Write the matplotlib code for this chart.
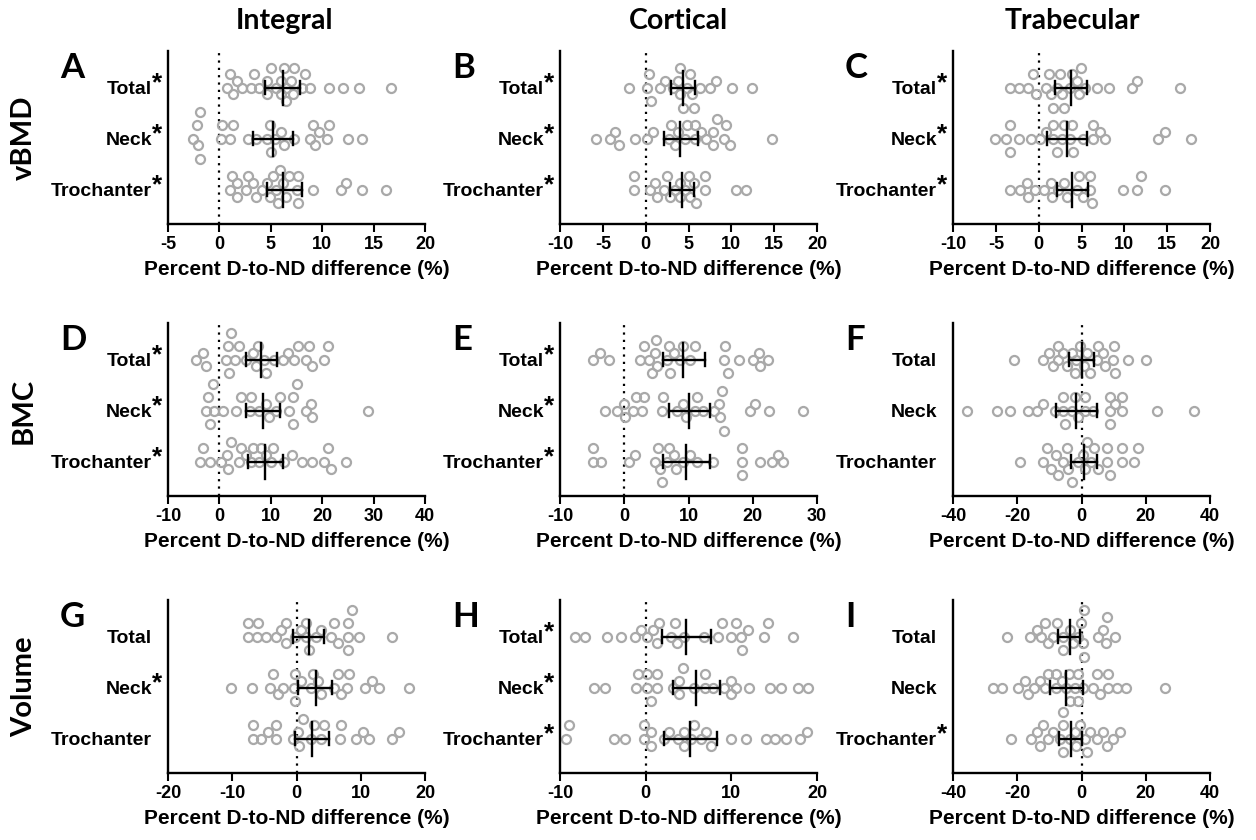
import numpy as np
import matplotlib
matplotlib.use('Agg')
import matplotlib.pyplot as plt

# ---------------------------------------------------------------------------
# Data: percent D-to-ND differences
# ---------------------------------------------------------------------------
sites = ['Trochanter', 'Neck', 'Total']

# vBMD
a_total = [0.7, 1.0, 1.3, 1.7, 2.2, 3.1, 3.4, 3.9, 4.6, 4.6, 5.0, 5.5, 6.0, 6.0, 6.3,
           6.5, 6.5, 7.0, 7.2, 7.3, 8.0, 8.3, 8.8, 10.7, 12.0, 13.6, 16.7]
a_neck = [-2.6, -2.2, -1.9, -1.9, -2.1, 0.2, 0.3, 1.3, 1.0, 2.8, 3.6, 4.6, 4.9, 5.0, 5.4,
          6.0, 6.3, 7.3, 9.1, 8.8, 9.3, 9.7, 10.7, 10.5, 12.5, 13.9]
a_troch = [1.0, 1.2, 1.7, 1.7, 2.6, 2.8, 3.3, 3.6, 4.1, 4.6, 4.9, 5.2, 5.5, 5.7, 5.9,
           6.2, 6.5, 6.8, 7.5, 7.6, 7.6, 9.1, 11.8, 12.3, 13.9, 16.2]
b_total = [-1.9, 0.1, 0.4, 0.6, 1.7, 2.3, 3.2, 3.8, 4.0, 4.0, 4.3, 4.8, 5.2, 5.4, 5.6,
           6.4, 7.5, 8.2, 10.1, 12.4]
b_neck = [-5.8, -4.2, -3.6, -3.1, -1.3, 0.1, 0.9, 2.7, 3.0, 3.4, 3.8, 4.6, 4.8, 5.8, 5.8,
          6.5, 7.1, 7.9, 7.9, 8.3, 9.1, 9.4, 9.9, 14.7]
b_troch = [-1.4, -1.4, 0.5, 1.1, 1.3, 2.1, 2.5, 2.8, 3.4, 4.0, 4.0, 4.6, 5.0, 5.2, 5.6,
           5.9, 6.9, 6.9, 10.6, 11.7]
c_total = [-3.3, -2.3, -1.2, -0.7, -0.3, 0.8, 1.2, 1.4, 1.7, 2.1, 2.5, 2.7, 2.9, 3.7, 3.9,
           4.5, 4.7, 4.9, 5.4, 6.8, 8.2, 10.9, 11.5, 16.5]
c_neck = [-5.1, -3.8, -3.4, -3.3, -2.3, -0.9, 0.1, 0.8, 1.7, 1.7, 2.1, 2.7, 2.9, 3.7, 3.9,
          4.0, 5.2, 6.3, 6.4, 7.2, 7.8, 13.9, 14.8, 17.8]
c_troch = [-3.4, -2.2, -1.4, -1.3, -0.4, 0.6, 1.4, 1.6, 2.3, 2.9, 3.3, 4.5, 4.7, 5.2, 6.0,
           6.2, 6.0, 9.9, 11.5, 12.0, 14.8]

# BMC
d_total = [-4.6, -3.1, -2.6, 1.8, 1.6, 1.3, 2.3, 3.1, 3.9, 5.2, 6.5, 7.1, 7.5, 8.6, 9.0,
           10.7, 12.3, 13.3, 14.6, 15.2, 16.8, 17.5, 18.1, 20.4, 21.2]
d_neck = [-2.6, -2.2, -1.9, -1.3, -1.0, 0.7, 3.3, 4.2, 5.9, 6.2, 7.8, 9.1, 9.7, 11.0, 11.7,
          13.6, 14.3, 14.3, 15.1, 16.8, 17.8, 18.1, 29.0]
d_troch = [-3.8, -3.1, -1.8, 0.4, 1.6, 1.4, 2.3, 3.9, 4.2, 5.2, 6.2, 6.5, 7.8, 8.1, 9.1,
           10.1, 10.4, 12.6, 14.1, 16.1, 18.1, 20.4, 21.1, 21.7, 24.6]
e_total = [-4.8, -3.8, -2.3, 2.5, 3.1, 4.3, 3.9, 4.8, 5.0, 5.1, 6.6, 6.9, 7.1, 7.7, 8.7,
           9.2, 10.3, 11.0, 15.7, 15.6, 16.2, 17.9, 20.1, 20.9, 21.1, 22.4]
e_neck = [-3.0, -1.2, 0.1, 0.0, 1.4, 1.8, 2.7, 3.1, 5.8, 6.1, 8.2, 9.2, 9.6, 11.0, 11.4,
          12.3, 13.9, 14.7, 14.9, 15.2, 15.6, 19.6, 20.4, 22.6, 27.8]
e_troch = [-4.9, -4.9, -3.6, 0.8, 1.7, 5.3, 4.8, 5.6, 5.8, 6.6, 6.9, 7.7, 8.1, 9.2, 10.3,
           11.3, 13.8, 18.3, 18.3, 18.3, 21.2, 23.0, 23.9, 24.7]
f_total = [-21.1, -11.9, -10.1, -9.0, -7.3, -7.3, -5.7, -4.5, -3.1, -2.1, -1.6, -0.5, 0.7,
           1.6, 2.6, 4.7, 5.2, 6.8, 7.3, 9.9, 10.4, 10.1, 14.5, 20.1]
f_neck = [-35.6, -26.2, -22.3, -16.6, -13.8, -11.9, -8.3, -5.7, -5.2, -5.7, -3.1, -2.1,
          -1.0, 1.0, 1.0, 3.6, 8.8, 8.8, 8.8, 10.4, 12.5, 12.5, 23.4, 35.0]
f_troch = [-19.2, -11.9, -10.7, -9.4, -8.0, -7.3, -5.7, -4.5, -4.2, -3.1, -1.0, 0.5, 1.0,
           1.6, 3.1, 3.8, 5.2, 7.8, 7.8, 8.8, 12.5, 12.5, 16.4, 17.7]

# Volume
g_total = [-7.6, -7.6, -6.0, -6.2, -4.7, -3.2, -2.4, -1.6, -1.7, -0.3, 0.7, 1.5, 1.5, 2.0,
           3.0, 3.8, 5.4, 5.9, 6.5, 8.0, 8.0, 8.0, 8.7, 9.8, 14.8]
g_neck = [-10.2, -6.9, -4.1, -3.6, -2.9, -2.1, -0.4, -0.3, -0.2, 0.7, 2.2, 2.5, 3.4, 3.8,
          5.9, 6.5, 6.9, 8.1, 7.9, 10.7, 11.7, 12.8, 17.5]
g_troch = [-6.8, -6.8, -5.5, -4.5, -3.2, -3.2, -0.6, 0.4, 0.3, 1.0, 2.2, 2.8, 3.8, 4.3,
           6.9, 6.8, 9.2, 10.3, 11.3, 14.8, 16.0]
h_total = [-8.3, -7.1, -4.5, -2.9, -1.3, -0.5, 0.1, 0.8, 1.3, 1.5, 2.9, 3.4, 3.6, 4.5, 6.8,
           8.4, 8.9, 10.0, 10.5, 11.1, 11.2, 12.0, 13.8, 14.3, 17.2]
h_neck = [-6.0, -4.8, -0.9, -1.1, 0.2, 0.2, 0.6, 1.3, 1.3, 3.2, 3.9, 4.3, 3.9, 5.7, 6.9,
          6.9, 7.9, 9.2, 10.0, 10.0, 10.6, 12.1, 14.5, 15.8, 17.8, 18.9]
h_troch = [-8.9, -9.3, -3.7, -2.4, -0.2, -0.2, 0.6, 0.6, 2.1, 2.7, 3.8, 4.5, 4.5, 5.3, 5.6,
           6.5, 7.1, 7.6, 10.0, 11.7, 14.0, 15.1, 16.4, 18.0, 18.8]
i_total = [-23.2, -16.1, -14.0, -12.5, -11.4, -10.4, -8.8, -7.6, -5.9, -5.7, -3.6, -2.6,
           -1.0, -0.3, 0.5, 0.7, 0.7, 5.2, 6.8, 7.6, 7.8, 10.4]
i_neck = [-27.7, -24.6, -19.7, -17.7, -16.6, -14.9, -13.0, -11.4, -10.4, -7.8, -8.0, -6.2,
          -4.7, -3.6, -3.8, -2.1, -1.0, -1.0, 0.5, 3.6, 4.7, 5.9, 8.3, 8.3, 10.9, 14.0, 26.0]
i_troch = [-21.8, -15.6, -14.0, -12.8, -11.9, -10.4, -8.8, -6.8, -5.9, -5.7, -5.7, -3.6,
           -2.1, -1.6, -0.5, 1.0, 1.6, 2.6, 4.7, 6.8, 7.8, 9.7, 11.9]

# mean and 95% CI per site, order: Trochanter, Neck, Total
a_mean, a_lo, a_hi = [6.2, 5.2, 6.2], [4.6, 3.3, 4.4], [8.0, 7.2, 7.8]
b_mean, b_lo, b_hi = [4.2, 4.0, 4.3], [2.8, 2.1, 2.9], [5.6, 6.1, 5.8]
c_mean, c_lo, c_hi = [3.9, 3.3, 3.8], [2.1, 1.0, 1.9], [5.8, 5.6, 5.6]
d_mean, d_lo, d_hi = [8.8, 8.4, 8.1], [5.5, 5.2, 5.1], [12.3, 11.8, 11.3]
e_mean, e_lo, e_hi = [9.6, 10.0, 9.2], [6.0, 6.9, 6.0], [13.3, 13.4, 12.6]
f_mean, f_lo, f_hi = [0.7, -1.6, 0.0], [-3.4, -7.8, -3.8], [4.7, 4.7, 3.8]
g_mean, g_lo, g_hi = [2.4, 3.0, 2.0], [-0.3, 0.3, -0.5], [5.1, 5.6, 4.3]
h_mean, h_lo, h_hi = [5.2, 5.9, 4.7], [2.1, 3.2, 1.9], [8.3, 8.7, 7.6]
i_mean, i_lo, i_hi = [-3.4, -4.7, -3.6], [-7.0, -9.9, -7.2], [0.2, 0.5, -0.5]

# significance flags, order: Trochanter, Neck, Total
a_sig = b_sig = c_sig = d_sig = e_sig = h_sig = [True, True, True]
f_sig = [False, False, False]
g_sig = [False, True, False]
i_sig = [True, False, False]

col_titles = ['Integral', 'Cortical', 'Trabecular']
row_titles = ['vBMD', 'BMC', 'Volume']
xlabel = 'Percent D-to-ND difference (%)'

panels = [
    ('A', [a_troch, a_neck, a_total], a_mean, a_lo, a_hi, a_sig, (-5, 20), np.arange(-5, 21, 5)),
    ('B', [b_troch, b_neck, b_total], b_mean, b_lo, b_hi, b_sig, (-10, 20), np.arange(-10, 21, 5)),
    ('C', [c_troch, c_neck, c_total], c_mean, c_lo, c_hi, c_sig, (-10, 20), np.arange(-10, 21, 5)),
    ('D', [d_troch, d_neck, d_total], d_mean, d_lo, d_hi, d_sig, (-10, 40), np.arange(-10, 41, 10)),
    ('E', [e_troch, e_neck, e_total], e_mean, e_lo, e_hi, e_sig, (-10, 30), np.arange(-10, 31, 10)),
    ('F', [f_troch, f_neck, f_total], f_mean, f_lo, f_hi, f_sig, (-40, 40), np.arange(-40, 41, 20)),
    ('G', [g_troch, g_neck, g_total], g_mean, g_lo, g_hi, g_sig, (-20, 20), np.arange(-20, 21, 10)),
    ('H', [h_troch, h_neck, h_total], h_mean, h_lo, h_hi, h_sig, (-10, 20), np.arange(-10, 21, 10)),
    ('I', [i_troch, i_neck, i_total], i_mean, i_lo, i_hi, i_sig, (-40, 40), np.arange(-40, 41, 20)),
]

# ---------------------------------------------------------------------------
# Layout (pixels of a 1256x840 canvas)
# ---------------------------------------------------------------------------
W, H = 1256, 840
ax_left = [168, 560, 953]
ax_bottom = [224, 496, 773]
ax_w, ax_h = 257, 173
ylim = (-0.67, 2.72)
grey = '#a9a9a9'
title_font = ['Lato', 'DejaVu Sans']
tick_font = ['Liberation Sans', 'DejaVu Sans']


def swarm(vals, x_ppu, y_ppu, step=6.7, diam=8.2):
    """Simple beeswarm: vertical offsets (data units) so circles don't overlap."""
    px = np.asarray(vals, dtype=float) * x_ppu
    offs = np.zeros(len(px))
    placed = []
    cands = [0.0] + [s * j * step for j in range(1, 12) for s in (1, -1)]
    for i in np.argsort(px):
        for c in cands:
            if all((px[i] - px[j]) ** 2 + (c - offs[j]) ** 2 >= diam ** 2 for j in placed):
                break
        offs[i] = c
        placed.append(i)
    return offs / y_ppu


fig = plt.figure(figsize=(W / 100, H / 100), dpi=100)
plt.rcParams['font.family'] = tick_font
plt.rcParams['font.weight'] = 'bold'

for n, (letter, groups, mean, lo, hi, sig, xlim, xticks) in enumerate(panels):
    r, c = divmod(n, 3)
    ax = fig.add_axes([ax_left[c] / W, (H - ax_bottom[r]) / H, ax_w / W, ax_h / H])
    x_ppu = ax_w / (xlim[1] - xlim[0])
    y_ppu = ax_h / (ylim[1] - ylim[0])

    ax.axvline(0, color='black', lw=1.6, ls=(0, (1, 2.3)), zorder=1)
    for k, vals in enumerate(groups):
        ys = k + swarm(vals, x_ppu, y_ppu)
        ax.plot(vals, ys, 'o', ms=6.5, mfc='none', mec=grey, mew=1.6, zorder=2,
                clip_on=False)
        ax.plot([mean[k]] * 2, [k - 0.33, k + 0.33], color='black', lw=1.7, zorder=3)
        ax.plot([lo[k], hi[k]], [k, k], color='black', lw=1.7, zorder=3)
        for e in (lo[k], hi[k]):
            ax.plot([e, e], [k - 0.13, k + 0.13], color='black', lw=1.7, zorder=3)
        if sig[k]:
            ax.annotate('*', xy=(0, k), xycoords=ax.get_yaxis_transform(),
                        xytext=(-7.5, 3.0), textcoords='offset points',
                        ha='center', va='center', fontsize=19, fontweight='bold')

    ax.set_xlim(*xlim)
    ax.set_ylim(*ylim)
    ax.set_xticks(xticks)
    ax.set_xticklabels([str(t) for t in xticks])
    ax.set_yticks(range(3))
    ax.set_yticklabels(sites)
    for s in ('top', 'right'):
        ax.spines[s].set_visible(False)
    for s in ('left', 'bottom'):
        ax.spines[s].set_linewidth(1.7)
    ax.tick_params(axis='x', length=5.5, width=1.5, labelsize=13, pad=3)
    ax.tick_params(axis='y', length=0, labelsize=14, pad=11.5)
    ax.set_xlabel(xlabel, fontsize=15, fontweight='bold', labelpad=5)

    fig.text((ax_left[c] - 108) / W, (H - ax_bottom[r] + 146) / H, letter,
             fontsize=25, fontweight='bold', family=title_font, ha='left', va='baseline')

col_x = [285, 678, 1072]
for c, t in enumerate(col_titles):
    fig.text(col_x[c] / W, (H - 29) / H, t, fontsize=20.5, fontweight='bold',
             family=title_font, ha='center', va='baseline')

row_y = [138, 411, 687]
for r, t in enumerate(row_titles):
    fig.text(24 / W, (H - row_y[r]) / H, t, fontsize=21, fontweight='bold',
             family=title_font, rotation=90, ha='center', va='center')

fig.savefig('out.png', dpi=100)
